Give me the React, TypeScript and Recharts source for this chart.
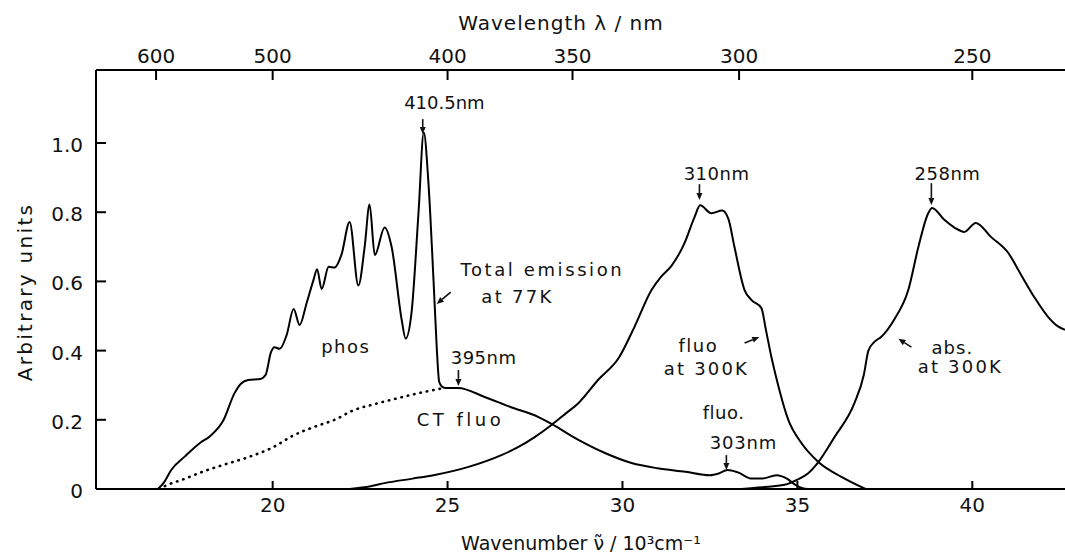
import React from 'react';
import { ComposedChart, Line, XAxis, YAxis, ReferenceDot, ReferenceLine } from 'recharts';

// axis ticks
const wavenumberTicks = [20, 25, 30, 35, 40];
const wavelengthTicks = [600, 500, 400, 350, 300, 250];
const intensityTicks = [0, 0.2, 0.4, 0.6, 0.8, 1.0];

// [wavenumber (10^3 cm-1), intensity]
const totalEmission77K = [
  [16.72, 0], [16.9, 0.02], [17.1, 0.055], [17.5, 0.095], [17.95, 0.135], [18.2, 0.152],
  [18.6, 0.2], [18.9, 0.275], [19.1, 0.305], [19.3, 0.315], [19.65, 0.318], [19.8, 0.33],
  [19.95, 0.395], [20.05, 0.41], [20.2, 0.405], [20.4, 0.445], [20.6, 0.52], [20.77, 0.474],
  [20.97, 0.537], [21.17, 0.605], [21.27, 0.635], [21.4, 0.578], [21.6, 0.642], [21.77, 0.64],
  [21.97, 0.678], [22.2, 0.772], [22.45, 0.588], [22.63, 0.7], [22.77, 0.822], [22.92, 0.676],
  [23.2, 0.756], [23.4, 0.7], [23.69, 0.488], [23.8, 0.435], [23.97, 0.51], [24.17, 0.8],
  [24.32, 1.03], [24.45, 0.89], [24.6, 0.6], [24.69, 0.41], [24.76, 0.31], [24.85, 0.295],
  [24.95, 0.292], [25.3, 0.292], [26.06, 0.266], [26.8, 0.237], [27.6, 0.208], [27.97, 0.188],
  [28.74, 0.142], [29.5, 0.104], [30.26, 0.075], [31.0, 0.06], [31.8, 0.05], [32.5, 0.04],
  [32.75, 0.045], [33.0, 0.055], [33.3, 0.048], [33.7, 0.03], [34.0, 0.03], [34.4, 0.04],
  [34.7, 0.03], [34.9, 0.015], [35.15, 0.002], [35.3, 0],
];

const ctFluoUnderPhos = [
  [16.75, 0], [17.0, 0.012], [17.5, 0.03], [18.0, 0.05], [18.6, 0.07], [19.3, 0.092],
  [20.0, 0.12], [20.6, 0.155], [21.2, 0.18], [21.77, 0.2], [22.3, 0.227], [22.9, 0.245],
  [23.4, 0.258], [24.17, 0.277], [24.9, 0.292],
];

const fluo300K = [
  [22.2, 0], [22.8, 0.008], [23.2, 0.017], [24.0, 0.03], [24.6, 0.04], [25.6, 0.064],
  [26.54, 0.098], [27.0, 0.12], [27.49, 0.15], [27.97, 0.185], [28.4, 0.22], [28.74, 0.248],
  [29.3, 0.315], [29.9, 0.38], [30.34, 0.468], [30.83, 0.575], [31.1, 0.613], [31.4, 0.645],
  [31.77, 0.71], [32.06, 0.786], [32.22, 0.82], [32.54, 0.797], [32.85, 0.805], [33.03, 0.78],
  [33.2, 0.7], [33.49, 0.575], [33.69, 0.546], [33.97, 0.523], [34.1, 0.46], [34.26, 0.38],
  [34.4, 0.32], [34.74, 0.2], [35.1, 0.135], [35.6, 0.078], [36.26, 0.035], [36.95, 0],
];

const abs300K = [
  [33.4, 0], [34.0, 0.005], [34.63, 0.012], [35.0, 0.027], [35.3, 0.045], [35.6, 0.078],
  [36.06, 0.15], [36.63, 0.248], [36.9, 0.33], [37.03, 0.4], [37.2, 0.425], [37.4, 0.44],
  [37.77, 0.49], [38.17, 0.575], [38.46, 0.7], [38.74, 0.797], [38.85, 0.812], [39.2, 0.778],
  [39.5, 0.755], [39.77, 0.743], [40.1, 0.769], [40.54, 0.728], [41.03, 0.682], [41.4, 0.618],
  [41.77, 0.555], [42.17, 0.497], [42.45, 0.47], [42.65, 0.46],
];

// annotations, placed in data coordinates
const notes = [
  { text: '410.5nm', x: 24.91, y: 1.116, spacing: 0 },
  { text: '310nm', x: 32.69, y: 0.913, spacing: 0.5 },
  { text: '258nm', x: 39.29, y: 0.913, spacing: 0.5 },
  { text: 'Total emission', x: 27.71, y: 0.633, spacing: 2.6 },
  { text: 'at 77K', x: 27.0, y: 0.555, spacing: 2.3 },
  { text: 'phos', x: 22.09, y: 0.413, spacing: 1.5 },
  { text: '395nm', x: 26.03, y: 0.381, spacing: 0.5 },
  { text: 'CT fluo', x: 25.37, y: 0.2, spacing: 3.5 },
  { text: 'fluo', x: 32.17, y: 0.416, spacing: 1.5 },
  { text: 'at 300K', x: 32.4, y: 0.347, spacing: 2.2 },
  { text: 'abs.', x: 39.43, y: 0.41, spacing: 1 },
  { text: 'at 300K', x: 39.66, y: 0.353, spacing: 2.2 },
  { text: 'fluo.', x: 32.89, y: 0.22, spacing: 0.5 },
  { text: '303nm', x: 33.46, y: 0.133, spacing: 0.8 },
];

const arrows = [
  { x1: 24.29, y1: 1.069, x2: 24.29, y2: 1.026 },
  { x1: 32.2, y1: 0.881, x2: 32.2, y2: 0.835 },
  { x1: 38.83, y1: 0.884, x2: 38.83, y2: 0.821 },
  { x1: 25.09, y1: 0.569, x2: 24.69, y2: 0.535 },
  { x1: 25.31, y1: 0.344, x2: 25.31, y2: 0.298 },
  { x1: 33.49, y1: 0.422, x2: 33.91, y2: 0.439 },
  { x1: 38.26, y1: 0.41, x2: 37.89, y2: 0.434 },
  { x1: 32.97, y1: 0.098, x2: 32.97, y2: 0.055 },
];

const toPoints = (pairs: number[][]) => pairs.map(([x, y]) => ({ x, y }));

const FONT = '"DejaVu Sans", sans-serif';
const INK = '#111';

const ArrowShape = (props: any) => {
  const { x1, y1, x2, y2 } = props;
  const dx = x2 - x1;
  const dy = y2 - y1;
  const len = Math.sqrt(dx * dx + dy * dy) || 1;
  const ux = dx / len;
  const uy = dy / len;
  const hl = 7;
  const hw = 3;
  const bx = x2 - ux * hl;
  const by = y2 - uy * hl;
  return (
    <g>
      <line x1={x1} y1={y1} x2={bx} y2={by} stroke={INK} strokeWidth={1.6} />
      <polygon
        points={`${x2},${y2} ${bx - uy * hw},${by + ux * hw} ${bx + uy * hw},${by - ux * hw}`}
        fill={INK}
      />
    </g>
  );
};

const noteShape = (text: string, spacing: number) => (props: any) => (
  <text
    x={props.cx}
    y={props.cy}
    textAnchor="middle"
    dominantBaseline="central"
    fontFamily={FONT}
    fontSize={18}
    letterSpacing={spacing}
    fill={INK}
  >
    {text}
  </text>
);

// inward ticks drawn by hand; x/y arrive on the axis line (tickSize=0, tickMargin=0)
const BottomTick = (props: any) => {
  const { x, y, payload } = props;
  return (
    <g>
      <line x1={x} y1={y} x2={x} y2={y - 8} stroke="#000" strokeWidth={2} />
      <text x={x} y={y + 23} textAnchor="middle" fontFamily={FONT} fontSize={20} fill={INK}>
        {payload.value}
      </text>
    </g>
  );
};

const TopTick = (props: any) => {
  const { x, y, payload } = props;
  return (
    <g>
      <line x1={x} y1={y} x2={x} y2={y + 10} stroke="#000" strokeWidth={2} />
      <text x={x} y={y - 7} textAnchor="middle" fontFamily={FONT} fontSize={20} fill={INK}>
        {Math.round(1e4 / payload.value)}
      </text>
    </g>
  );
};

const LeftTick = (props: any) => {
  const { x, y, payload } = props;
  const v = payload.value as number;
  return (
    <g>
      <line x1={x} y1={y} x2={x + 10} y2={y} stroke="#000" strokeWidth={2} />
      <text x={x - 13} y={y + 9} textAnchor="end" fontFamily={FONT} fontSize={20} fill={INK}>
        {v === 0 ? '0' : v.toFixed(1)}
      </text>
    </g>
  );
};

const App: React.FC = () => {
  const axisLine = { stroke: '#000', strokeWidth: 2 };
  const domainX: [number, number] = [14.95, 42.65];

  return (
    <div style={{ position: 'absolute', left: 0, top: 0, background: '#fff', fontFamily: FONT }}>
      <ComposedChart width={1065} height={553} margin={{ top: 0, right: 0, bottom: 0, left: 0 }}>
        <XAxis
          dataKey="x"
          type="number"
          domain={domainX}
          allowDataOverflow
          ticks={wavenumberTicks}
          interval={0}
          height={64}
          tickSize={0}
          tickMargin={0}
          tick={BottomTick}
          tickLine={false}
          axisLine={axisLine}
          label={{
            content: () => (
              <text x={581} y={550} textAnchor="middle" fontFamily={FONT} fontSize={19} fill={INK}>
                {'Wavenumber  \u03BD\u0303 / 10\u00B3cm\u207B\u00B9'}
              </text>
            ),
          }}
        />
        <XAxis
          xAxisId="top"
          orientation="top"
          dataKey="x"
          type="number"
          domain={domainX}
          allowDataOverflow
          ticks={wavelengthTicks.map((l) => 1e4 / l)}
          interval={0}
          height={70}
          tickSize={0}
          tickMargin={0}
          tick={TopTick}
          tickLine={false}
          axisLine={axisLine}
          label={{
            content: () => (
              <text x={561} y={30} textAnchor="middle" fontFamily={FONT} fontSize={20} letterSpacing={1} fill={INK}>
                {'Wavelength  \u03BB / nm'}
              </text>
            ),
          }}
        />
        <YAxis
          type="number"
          domain={[0, 1.211]}
          allowDataOverflow
          ticks={intensityTicks}
          interval={0}
          width={96}
          tickSize={0}
          tickMargin={0}
          tick={LeftTick}
          tickLine={false}
          axisLine={axisLine}
          label={{
            content: () => (
              <text
                x={25}
                y={292}
                transform="rotate(-90 25 292)"
                textAnchor="middle"
                dominantBaseline="central"
                fontFamily={FONT}
                fontSize={20}
                letterSpacing={2.3}
                fill={INK}
              >
                Arbitrary units
              </text>
            ),
          }}
        />

        <Line
          data={toPoints(ctFluoUnderPhos)}
          dataKey="y"
          type="monotone"
          stroke="#000"
          strokeWidth={2.6}
          strokeDasharray="0.5 6"
          strokeLinecap="round"
          dot={false}
          isAnimationActive={false}
        />
        <Line
          data={toPoints(totalEmission77K)}
          dataKey="y"
          type="monotone"
          stroke="#000"
          strokeWidth={2}
          dot={false}
          isAnimationActive={false}
        />
        <Line
          data={toPoints(fluo300K)}
          dataKey="y"
          type="monotone"
          stroke="#000"
          strokeWidth={2}
          dot={false}
          isAnimationActive={false}
        />
        <Line
          data={toPoints(abs300K)}
          dataKey="y"
          type="monotone"
          stroke="#000"
          strokeWidth={2}
          dot={false}
          isAnimationActive={false}
        />

        {arrows.map((a, i) => (
          <ReferenceLine
            key={`arrow-${i}`}
            segment={[{ x: a.x1, y: a.y1 }, { x: a.x2, y: a.y2 }]}
            ifOverflow="visible"
            shape={ArrowShape}
          />
        ))}
        {notes.map((n, i) => (
          <ReferenceDot
            key={`note-${i}`}
            x={n.x}
            y={n.y}
            r={0}
            ifOverflow="visible"
            shape={noteShape(n.text, n.spacing)}
          />
        ))}
      </ComposedChart>
    </div>
  );
};

export default App;
